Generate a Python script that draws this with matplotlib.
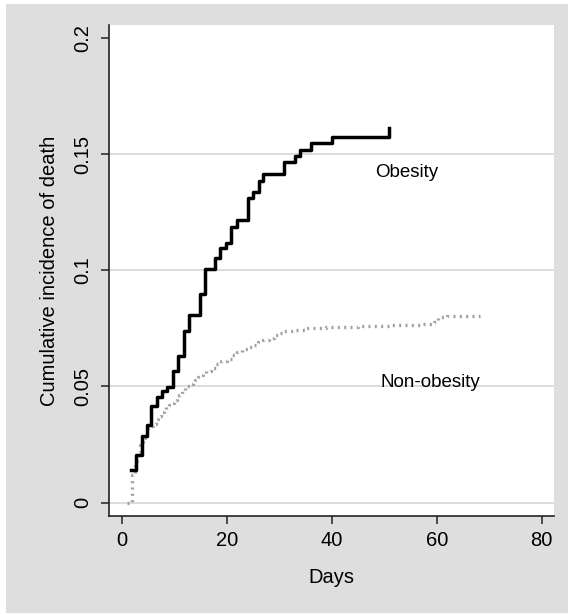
import matplotlib
matplotlib.use("Agg")
import matplotlib.pyplot as plt
from matplotlib.patches import Rectangle

plt.rcParams['font.family'] = ['Liberation Sans', 'DejaVu Sans']

# Obesity (step times in days, cumulative incidence after each step)
obesity_days = [1.7, 2.7, 3.8, 4.8, 5.6, 6.7, 7.6, 8.6, 9.8, 10.8, 11.9, 12.9,
                15.0, 15.9, 17.8, 18.8, 19.9, 20.9, 21.9, 24.0, 25.0, 26.1,
                27.0, 31.0, 33.0, 34.0, 36.0, 40.0, 51.0]
obesity_vals = [0.0140, 0.0205, 0.0288, 0.0334, 0.0416, 0.0456, 0.0482, 0.0499,
                0.0566, 0.0631, 0.0740, 0.0807, 0.0898, 0.1005, 0.1052, 0.1097,
                0.1118, 0.1187, 0.1216, 0.1312, 0.1335, 0.1384, 0.1413, 0.1464,
                0.1490, 0.1517, 0.1548, 0.1574, 0.1610]

# Non-obesity
nonob_days = [1.0, 2.0, 2.6, 3.0, 3.5, 4.0, 4.5, 5.0, 5.5, 6.0, 6.5, 7.0, 7.5,
              8.0, 8.5, 9.0, 9.5, 10.0, 10.5, 11.0, 11.5, 12.0, 12.5, 13.0,
              13.5, 14.0, 14.5, 15.0, 15.5, 16.0, 17.0, 18.0,
              19.0, 20.0, 21.0, 22.0, 23.0, 24.0, 25.0, 26.0, 27.0, 28.0, 29.0,
              30.0, 31.0, 33.0, 35.0, 37.0, 39.0, 42.0, 45.0, 48.0, 51.0, 54.0,
              57.0, 59.5, 60.3, 62.0, 68.3]
nonob_vals = [0.0000, 0.0120, 0.0180, 0.0220, 0.0250, 0.0280, 0.0300, 0.0320,
              0.0330, 0.0340, 0.0360, 0.0375, 0.0390, 0.0400, 0.0410, 0.0420,
              0.0430, 0.0440, 0.0452, 0.0465, 0.0480, 0.0495, 0.0502, 0.0510,
              0.0520, 0.0530, 0.0540, 0.0550, 0.0558, 0.0565, 0.0580, 0.0595,
              0.0610, 0.0620, 0.0635, 0.0650, 0.0660, 0.0670, 0.0680, 0.0690,
              0.0700, 0.0710, 0.0720, 0.0730, 0.0740, 0.0745, 0.0750, 0.0752,
              0.0755, 0.0757, 0.0760, 0.0762, 0.0764, 0.0766, 0.0769, 0.0778,
              0.0800, 0.0803, 0.0803]

x_ticks = [0, 20, 40, 60, 80]
y_ticks = [0, 0.05, 0.1, 0.15, 0.2]
y_ticklabels = ['0', '0.05', '0.1', '0.15', '0.2']
grid_levels = [0, 0.05, 0.1, 0.15]

W, H = 568, 614
fig = plt.figure(figsize=(W / 100, H / 100), dpi=100, facecolor='white')
fig.patches.append(Rectangle((6 / W, 1 / H), (W - 6) / W, (H - 5) / H,
                             transform=fig.transFigure, facecolor='#dedede',
                             edgecolor='none', zorder=-10))

ax = fig.add_axes([109 / W, 1 - 516 / H, (554 - 109) / W, (516 - 25) / H])
ax.set_zorder(1)
ax.set_facecolor('white')

for g in grid_levels:
    ax.axhline(g, color='#dcdcdc', lw=1.4, zorder=1)

ax.step(nonob_days, nonob_vals, where='post', color='#a0a0a0', lw=2.4,
        linestyle=(0, (0.6, 1.3)), zorder=2)
ax.step(obesity_days, obesity_vals, where='post', color='black', lw=2.5,
        zorder=3)

ax.text(48.3, 0.1419, 'Obesity', fontsize=13.5, va='center', ha='left')
ax.text(49.2, 0.0516, 'Non-obesity', fontsize=13.5, va='center', ha='left')

ax.set_xlim(-2.42, 82.34)
ax.set_ylim(-0.00572, 0.2055)
ax.set_xticks(x_ticks)
ax.set_yticks(y_ticks)
ax.set_yticklabels(y_ticklabels, rotation=90, va='center')
ax.tick_params(axis='both', direction='out', labelsize=14.5, color='#222222',
               width=1.1, length=6)
ax.tick_params(axis='y', pad=6)
ax.tick_params(axis='x', pad=5)

for s in ['top', 'right']:
    ax.spines[s].set_visible(False)
for s in ['left', 'bottom']:
    ax.spines[s].set_color('#222222')
    ax.spines[s].set_linewidth(1.2)

ax.set_xlabel('Days', fontsize=14.5, labelpad=13)
ax.set_ylabel('Cumulative incidence of death', fontsize=14.5, labelpad=10)

fig.savefig('out.png', dpi=100, facecolor=fig.get_facecolor())
